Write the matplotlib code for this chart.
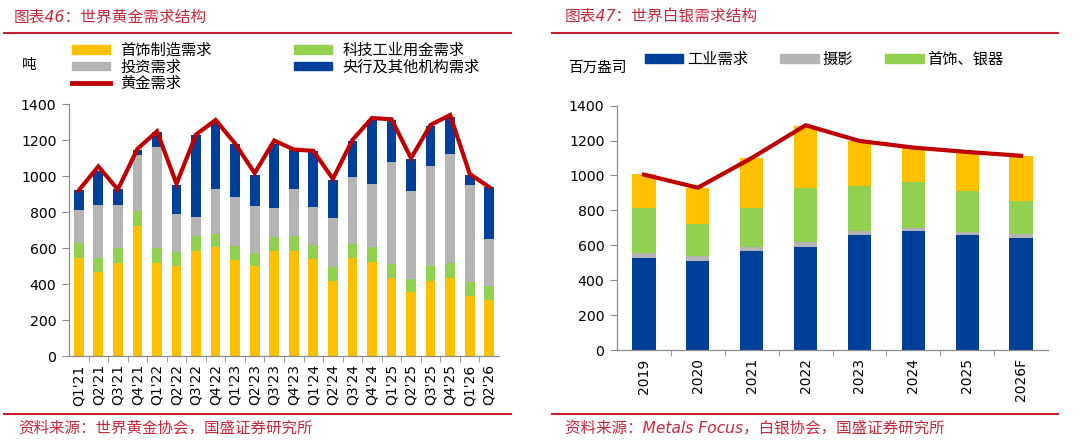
import numpy as np
import matplotlib
matplotlib.use("Agg")
import matplotlib.pyplot as plt
from matplotlib.patches import Patch
from matplotlib.lines import Line2D

plt.rcParams['font.family'] = ['DejaVu Sans', 'Noto Sans CJK SC']
plt.rcParams['axes.unicode_minus'] = False

# --- dados: ouro (toneladas) ---
quarters = ["Q1'21", "Q2'21", "Q3'21", "Q4'21", "Q1'22", "Q2'22", "Q3'22", "Q4'22",
            "Q1'23", "Q2'23", "Q3'23", "Q4'23", "Q1'24", "Q2'24", "Q3'24", "Q4'24",
            "Q1'25", "Q2'25", "Q3'25", "Q4'25", "Q1'26", "Q2'26"]
jewelry = [544, 464, 519, 722, 517, 499, 583, 604, 534, 500, 582, 586,
           537, 415, 545, 521, 434, 353, 417, 436, 332, 310]
tech = [84, 80, 83, 83, 83, 79, 84, 74, 75, 72, 77, 81,
        82, 80, 79, 85, 79, 77, 82, 81, 78, 78]
investment = [181, 293, 235, 309, 560, 212, 103, 251, 277, 259, 163, 262,
              208, 271, 373, 347, 567, 486, 554, 606, 541, 262]
central_bank = [114, 193, 88, 31, 83, 161, 458, 375, 292, 175, 356, 216,
                314, 213, 200, 358, 231, 179, 227, 207, 55, 288]
gold_total = [920, 1053, 925, 1150, 1248, 957, 1230, 1311, 1180, 1016, 1197, 1147,
              1140, 984, 1200, 1322, 1315, 1099, 1284, 1339, 1012, 938]

# --- dados: prata (milhões de onças) ---
years = ['2019', '2020', '2021', '2022', '2023', '2024', '2025', '2026F']
industrial = [525, 512, 565, 592, 657, 680, 657, 640]
photo = [31, 25, 27, 28, 25, 21, 21, 23]
silverware = [259, 183, 223, 306, 260, 260, 235, 191]
other_silver = [192, 210, 287, 359, 256, 195, 214, 258]
silver_total = [1005, 930, 1100, 1288, 1198, 1160, 1135, 1113]

YELLOW = '#FFC000'
GREEN = '#92D050'
GREY = '#B4B4B4'
BLUE = '#00409A'
LINE_RED = '#C00000'
TXT_RED = '#C8283C'

fig = plt.figure(figsize=(10.8, 4.44), dpi=100)


def style_axes(ax, n):
    for s in ['top', 'right']:
        ax.spines[s].set_visible(False)
    for s in ['left', 'bottom']:
        ax.spines[s].set_color('#8C8C8C')
        ax.spines[s].set_linewidth(0.9)
    ax.set_xlim(-0.5, n - 0.5)
    ax.set_ylim(0, 1400)
    ax.set_yticks(np.arange(0, 1401, 200))
    ax.set_xticks(np.arange(n - 1) + 0.5, minor=True)
    ax.tick_params(axis='x', which='major', length=0, labelsize=10, rotation=90, pad=6)
    ax.tick_params(axis='x', which='minor', length=4, color='#8C8C8C', direction='out')
    ax.tick_params(axis='y', length=5, color='#8C8C8C', labelsize=10.2, pad=4)


# --- gráfico da esquerda ---
ax1 = fig.add_axes([69 / 1080, 88 / 444, 430 / 1080, 252 / 444])
x1 = np.arange(len(quarters))
b1 = np.array(jewelry)
b2 = b1 + np.array(tech)
b3 = b2 + np.array(investment)
ax1.bar(x1, jewelry, width=0.5, color=YELLOW)
ax1.bar(x1, tech, width=0.5, bottom=b1, color=GREEN)
ax1.bar(x1, investment, width=0.5, bottom=b2, color=GREY)
ax1.bar(x1, central_bank, width=0.5, bottom=b3, color=BLUE)
ax1.plot(x1, gold_total, color=LINE_RED, lw=3, solid_joinstyle='miter', clip_on=False)
ax1.set_xticks(x1)
ax1.set_xticklabels(quarters)
style_axes(ax1, len(quarters))

handles1 = [Patch(color=YELLOW, label='首饰制造需求'),
            Patch(color=GREY, label='投资需求'),
            Line2D([], [], color=LINE_RED, lw=3.5, label='黄金需求'),
            Patch(color=GREEN, label='科技工业用金需求'),
            Patch(color=BLUE, label='央行及其他机构需求')]
fig.legend(handles=handles1, ncol=2, loc='upper left', bbox_to_anchor=(72 / 1080, 1 - 43 / 444),
           frameon=False, fontsize=11, handlelength=2.5, handleheight=0.48,
           handletextpad=0.65, labelspacing=0.1, columnspacing=5.4, borderpad=0,
           borderaxespad=0)
fig.text(22 / 1080, 1 - 65 / 444, '吨', fontsize=10.5, va='center')

# --- gráfico da direita ---
ax2 = fig.add_axes([617 / 1080, 94 / 444, 431 / 1080, 244.3 / 444])
x2 = np.arange(len(years))
c1 = np.array(industrial)
c2 = c1 + np.array(photo)
c3 = c2 + np.array(silverware)
ax2.bar(x2, industrial, width=0.43, color=BLUE)
ax2.bar(x2, photo, width=0.43, bottom=c1, color=GREY)
ax2.bar(x2, silverware, width=0.43, bottom=c2, color=GREEN)
ax2.bar(x2, other_silver, width=0.43, bottom=c3, color=YELLOW)
ax2.plot(x2, silver_total, color=LINE_RED, lw=3, clip_on=False)
ax2.set_xticks(x2)
ax2.set_xticklabels(years)
style_axes(ax2, len(years))

handles2 = [Patch(color=BLUE, label='工业需求'),
            Patch(color=GREY, label='摄影'),
            Patch(color=GREEN, label='首饰、银器')]
fig.legend(handles=handles2, ncol=3, loc='upper left', bbox_to_anchor=(645 / 1080, 1 - 52 / 444),
           frameon=False, fontsize=11, handlelength=2.5, handleheight=0.48,
           handletextpad=0.27, columnspacing=2.1, borderpad=0, borderaxespad=0)
fig.text(568 / 1080, 1 - 67 / 444, '百万盎司', fontsize=10.5, va='center')

# --- títulos, fontes e linhas vermelhas ---
fig.text(14 / 1080, 1 - 17 / 444, '图表46：世界黄金需求结构', fontsize=11.3, color=TXT_RED,
         style='italic', va='center')
fig.text(565 / 1080, 1 - 17 / 444, '图表47：世界白银需求结构', fontsize=11.3, color=TXT_RED,
         style='italic', va='center')
fig.text(18 / 1080, 1 - 428 / 444, '资料来源：世界黄金协会，国盛证券研究所', fontsize=11.2,
         color=TXT_RED, style='italic', va='center')
fig.text(565 / 1080, 1 - 428 / 444, '资料来源：Metals Focus，白银协会，国盛证券研究所',
         fontsize=11.2, color=TXT_RED, style='italic', va='center')
for x0, x1_ in [(4, 511), (552, 1058)]:
    for yy in [33, 414]:
        fig.add_artist(Line2D([x0 / 1080, x1_ / 1080], [1 - yy / 444, 1 - yy / 444],
                              color='#C8202F', lw=1.5))

fig.savefig('out.png', dpi=100)
